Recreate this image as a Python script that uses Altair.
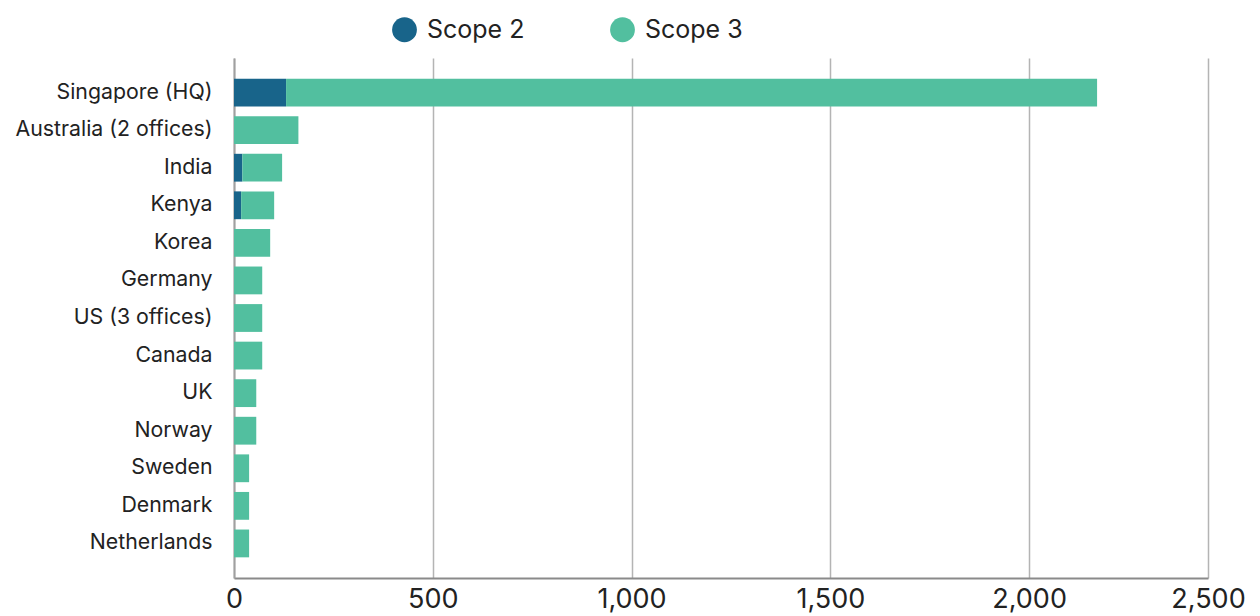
import altair as alt
import pandas as pd

countries = ["Singapore (HQ)", "Australia (2 offices)", "India", "Kenya", "Korea",
             "Germany", "US (3 offices)", "Canada", "UK", "Norway", "Sweden",
             "Denmark", "Netherlands"]
scope2 = [131, 0, 21, 18, 0, 0, 0, 0, 0, 0, 0, 0, 0]
scope3 = [2040, 162, 100, 83, 91, 71, 71, 71, 56, 56, 38, 38, 38]
series = ["Scope 2", "Scope 3"]
colors = ["#18648A", "#52BF9F"]
x_ticks = [0, 500, 1000, 1500, 2000, 2450]

rows = []
for c, s2, s3 in zip(countries, scope2, scope3):
    rows.append({"country": c, "series": "Scope 2", "value": s2, "ord": 0})
    rows.append({"country": c, "series": "Scope 3", "value": s3, "ord": 1})
df = pd.DataFrame(rows)

FONT = "Inter"

chart = alt.Chart(df).mark_bar().encode(
    y=alt.Y("country:N", sort=countries, title=None,
            scale=alt.Scale(paddingInner=0.26, paddingOuter=0.55),
            axis=alt.Axis(labelFontSize=21.3, labelFont=FONT, labelColor="#222",
                          labelPadding=22, labelLimit=400, ticks=False, domain=True,
                          domainColor="#a0a0a0", domainWidth=2, grid=False)),
    x=alt.X("value:Q", stack="zero", title=None,
            scale=alt.Scale(domain=[0, 2450], nice=False),
            axis=alt.Axis(values=x_ticks,
                          labelExpr="datum.value >= 2450 ? '2,500' : format(datum.value, ',')",
                          labelFontSize=27, labelFont=FONT, labelColor="#222",
                          labelPadding=8, ticks=False, domainColor="#8a8a8a",
                          domainWidth=2, gridColor="#b4b4b4", gridWidth=1.5,
                          labelFlush=False, labelOverlap=False)),
    color=alt.Color("series:N", scale=alt.Scale(domain=series, range=colors),
                    legend=alt.Legend(title=None, orient="none", direction="horizontal",
                                      legendX=158, legendY=-41, symbolType="circle",
                                      symbolSize=615, symbolStrokeWidth=0,
                                      labelFontSize=25, labelFont=FONT,
                                      labelColor="#222", labelOffset=10,
                                      columnPadding=85)),
    order=alt.Order("ord:Q", sort="ascending"),
).properties(
    width=974, height=520,
    autosize=alt.AutoSizeParams(type="none"),
    padding={"left": 234, "top": 58, "right": 52, "bottom": 38},
).configure(background="white").configure_view(stroke=None)

chart.save("out.html", embed_options={"renderer": "svg", "actions": False})
